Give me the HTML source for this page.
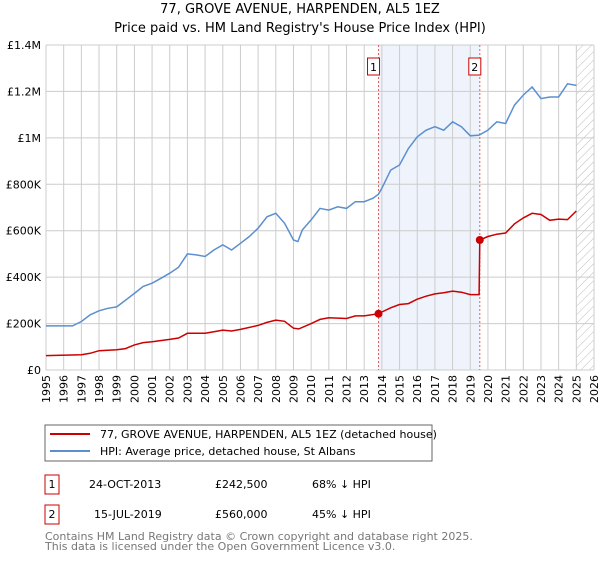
<!DOCTYPE html>
<html><head><meta charset="utf-8"><style>
body{margin:0;background:#fff;font-family:"Liberation Sans","DejaVu Sans",sans-serif;}
svg text{font-family:"DejaVu Sans","Liberation Sans",sans-serif;}
</style></head><body>
<svg id="c" width="600" height="560" xmlns="http://www.w3.org/2000/svg">
<defs><pattern id="hatch" width="6" height="6" patternUnits="userSpaceOnUse" patternTransform="rotate(45)"><line x1="0" y1="0" x2="0" y2="6" stroke="#bbb" stroke-width="1"/></pattern></defs>
<text x="300" y="13" text-anchor="middle" font-size="13">77, GROVE AVENUE, HARPENDEN, AL5 1EZ</text>
<text x="300" y="32" text-anchor="middle" font-size="13">Price paid vs. HM Land Registry's House Price Index (HPI)</text>
<g id="plot"></g>
<g>
<rect x="45" y="425" width="387" height="36" fill="#fff" stroke="#666"/>
<line x1="50" y1="434" x2="90" y2="434" stroke="#cc0000" stroke-width="2"/>
<text x="100" y="438" font-size="11">77, GROVE AVENUE, HARPENDEN, AL5 1EZ (detached house)</text>
<line x1="50" y1="451" x2="90" y2="451" stroke="#5b8fd0" stroke-width="2"/>
<text x="100" y="455" font-size="11">HPI: Average price, detached house, St Albans</text>
</g>
<g font-size="11">
<rect x="45" y="475" width="14" height="19" fill="#fff" stroke="#cc0000"/><text x="52" y="488" text-anchor="middle">1</text>
<text x="89" y="488">24-OCT-2013</text><text x="215" y="488">£242,500</text><text x="312" y="488">68% ↓ HPI</text>
<rect x="45" y="505" width="14" height="19" fill="#fff" stroke="#cc0000"/><text x="52" y="518" text-anchor="middle">2</text>
<text x="94" y="518">15-JUL-2019</text><text x="215" y="518">£560,000</text><text x="312" y="518">45% ↓ HPI</text>
</g>
<text x="45" y="540" font-size="11" fill="#777">Contains HM Land Registry data © Crown copyright and database right 2025.</text>
<text x="45" y="550" font-size="11" fill="#777">This data is licensed under the Open Government Licence v3.0.</text>
</svg>
<script>
const hpiYears=[1995,1996,1996.5,1997,1997.5,1998,1998.5,1999,2000,2000.5,2001,2001.5,2002,2002.5,2003,2003.5,2004,2004.5,2005,2005.5,2006,2006.5,2007,2007.5,2008,2008.5,2009,2009.25,2009.5,2010,2010.5,2011,2011.5,2012,2012.5,2013,2013.5,2013.8,2014,2014.5,2015,2015.5,2016,2016.5,2017,2017.5,2018,2018.5,2019,2019.5,2020,2020.5,2021,2021.5,2022,2022.5,2023,2023.5,2024,2024.5,2025];
const hpiValues=[190,190,190,209,238,255,266,272,330,360,374,395,417,443,500,496,489,517,539,517,546,575,611,660,675,632,560,553,603,647,696,689,703,696,725,725,740,757,783,861,883,954,1004,1033,1048,1033,1069,1048,1009,1012,1033,1069,1062,1141,1184,1219,1169,1176,1176,1233,1226];
const ppYears=[1995,1997,1997.5,1998,1999,1999.5,2000,2000.5,2001,2002,2002.5,2003,2004,2004.5,2005,2005.5,2006,2007,2007.5,2008,2008.5,2009,2009.3,2010,2010.5,2011,2012,2012.5,2013,2013.81,2014,2014.5,2015,2015.5,2016,2016.5,2017,2017.5,2018,2018.5,2019,2019.5,2019.54,2020,2020.5,2021,2021.5,2022,2022.5,2023,2023.5,2024,2024.5,2025];
const ppValues=[62,66,72,83,87,92,108,118,122,132,138,158,158,165,172,168,175,192,205,215,210,180,177,200,218,225,222,233,233,242.5,250,268,282,286,305,318,328,333,340,335,325,325,560,575,585,590,630,655,675,670,645,650,648,685];
const saleYears=[2013.81,2019.54];
const saleValues=[242.5,560];
const yTicks=[0,200,400,600,800,1000,1200,1400];
const yTickLabels=["£0","£200K","£400K","£600K","£800K","£1M","£1.2M","£1.4M"];
const NS="http://www.w3.org/2000/svg";
const X0=46,X1=594,Y0=370,Y1=45;
const xs=y=>X0+(y-1995)/(2026-1995)*(X1-X0);
const ys=v=>Y0-v/1400*(Y0-Y1);
const g=document.getElementById('plot');
function mk(t,a){const e=document.createElementNS(NS,t);for(const k in a)e.setAttribute(k,a[k]);g.appendChild(e);return e;}
let e=mk('rect',{x:xs(saleYears[0]),y:Y1,width:xs(saleYears[1])-xs(saleYears[0]),height:Y0-Y1,fill:'#eef3fc'});


e=mk('rect',{x:xs(2025),y:Y1,width:X1-xs(2025),height:Y0-Y1,fill:'url(#hatch)'});


for(let yr=1995;yr<=2026;yr++){
 e=mk('line',{x1:xs(yr),x2:xs(yr),y1:Y1,y2:Y0,stroke:'#ccc','stroke-width':1});
 
 
 const t=mk('text',{transform:`translate(${xs(yr)+4},${Y0+5}) rotate(-90)`,'text-anchor':'end','font-size':11});
 t.textContent=yr;
 
 
}
yTicks.forEach((v,i)=>{
 e=mk('line',{x1:X0,x2:X1,y1:ys(v),y2:ys(v),stroke:'#ccc','stroke-width':1});
 
 
 const t=mk('text',{x:X0-5,y:ys(v)+4,'text-anchor':'end','font-size':11});
 t.textContent=yTickLabels[i];
 
 
});
saleYears.forEach((yr,i)=>{
 e=mk('line',{x1:xs(yr),x2:xs(yr),y1:Y1,y2:Y0,stroke:'#e06060','stroke-width':1,'stroke-dasharray':'2,2'});
 
 
 e=mk('rect',{x:xs(yr)-11,y:58,width:12,height:17,fill:'#fff',stroke:'#cc0000'});
 
 
 const t=mk('text',{x:xs(yr)-5,y:71,'text-anchor':'middle','font-size':11});
 t.textContent=String(i+1);
 
 
});
e=mk('path',{d:hpiYears.map((y,i)=>(i?'L':'M')+xs(y).toFixed(1)+','+ys(hpiValues[i]).toFixed(1)).join(''),fill:'none',stroke:'#5b8fd0','stroke-width':1.5});


e=mk('path',{d:ppYears.map((y,i)=>(i?'L':'M')+xs(y).toFixed(1)+','+ys(ppValues[i]).toFixed(1)).join(''),fill:'none',stroke:'#cc0000','stroke-width':1.5});


saleYears.forEach((yr,i)=>{
 const c=mk('circle',{cx:xs(yr),cy:ys(saleValues[i]),r:4,fill:'#cc0000'});
 
 
});
</script>
</body></html>
